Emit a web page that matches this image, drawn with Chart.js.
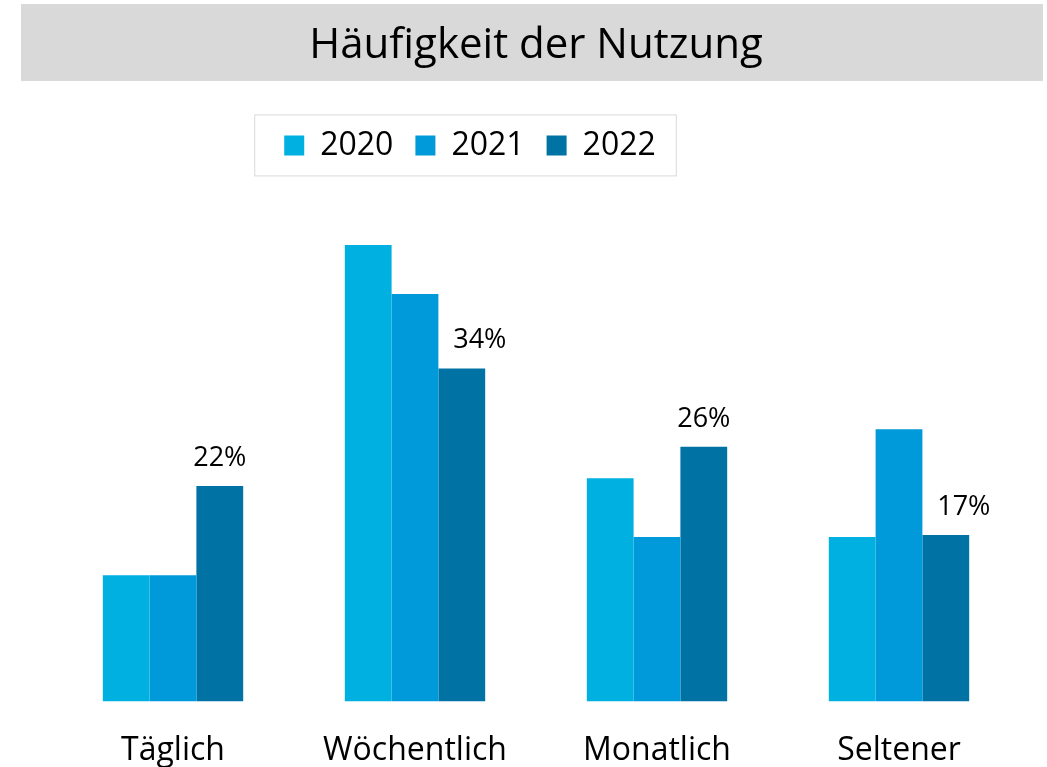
<!DOCTYPE html>
<html>
<head>
<meta charset="utf-8">
<script src="https://cdn.jsdelivr.net/npm/chart.js@4"></script>
<style>
  html, body { margin: 0; padding: 0; background: #fff; }
  #wrap { width: 1047px; height: 767px; position: relative; }
</style>
</head>
<body>
<div id="wrap"><canvas id="usageChart"></canvas></div>
<script>
// Häufigkeit der Nutzung - grouped bars per year
const categories = ['Täglich', 'Wöchentlich', 'Monatlich', 'Seltener'];
const years = ['2020', '2021', '2022'];
const values2020 = [12.9, 46.6, 22.8, 16.8];
const values2021 = [12.9, 41.6, 16.8, 27.8];
const values2022 = [22, 34, 26, 17];
const colors = ['#00B0E0', '#009ADA', '#0072A3'];

const FONT = '"Open Sans", "Liberation Sans", sans-serif';

// gray band behind the title, box around the legend, shift legend left
const decorPlugin = {
  id: 'decor',
  afterLayout(chart) {
    const lg = chart.legend;
    lg.left -= 66;
    lg.right -= 66;
  },
  beforeDraw(chart) {
    const ctx = chart.ctx;
    ctx.save();
    ctx.fillStyle = '#D9D9D9';
    ctx.fillRect(21, 4, 1022, 77);
    ctx.restore();
  },
  afterDraw(chart) {
    const boxes = chart.legend.legendHitBoxes;
    if (!boxes || !boxes.length) return;
    const first = boxes[0];
    const last = boxes[boxes.length - 1];
    const cy = first.top + first.height / 2;
    const ctx = chart.ctx;
    ctx.save();
    ctx.strokeStyle = '#D9D9D9';
    ctx.lineWidth = 1;
    ctx.strokeRect(first.left - 29.5, cy - 30.5, last.left + last.width - first.left + 50, 61);
    ctx.restore();
  }
};

// percent labels above the 2022 bars, nudged right when the 2021 bar is in the way
const labelPlugin = {
  id: 'barLabels',
  afterDatasetsDraw(chart) {
    const ctx = chart.ctx;
    const meta = chart.getDatasetMeta(2);
    const prev = chart.getDatasetMeta(1);
    ctx.save();
    ctx.font = '27px ' + FONT;
    ctx.fillStyle = '#000';
    ctx.textAlign = 'center';
    ctx.textBaseline = 'alphabetic';
    meta.data.forEach((bar, i) => {
      const y = bar.y - 20;
      const blocked = prev.data[i].y < y;
      ctx.fillText(values2022[i] + '%', bar.x + (blocked ? 18 : 0), y);
    });
    ctx.restore();
  }
};

new Chart(document.getElementById('usageChart'), {
  type: 'bar',
  data: {
    labels: categories,
    datasets: [
      { label: years[0], data: values2020, backgroundColor: colors[0] },
      { label: years[1], data: values2021, backgroundColor: colors[1] },
      { label: years[2], data: values2022, backgroundColor: colors[2] }
    ]
  },
  options: {
    responsive: true,
    maintainAspectRatio: false,
    animation: false,
    categoryPercentage: 0.58,
    barPercentage: 1.0,
    layout: { padding: { top: 4, left: 52, right: 27, bottom: -33 } },
    scales: {
      x: {
        grid: { display: false, drawTicks: false },
        border: { display: false },
        ticks: { color: '#000', font: { family: FONT, size: 32 }, padding: 30 }
      },
      y: {
        display: false,
        min: 0,
        max: 54.1
      }
    },
    plugins: {
      legend: {
        position: 'top',
        labels: {
          color: '#000',
          font: { family: FONT, size: 32 },
          boxWidth: 20,
          boxHeight: 20,
          padding: 22
        }
      },
      title: {
        display: true,
        text: 'Häufigkeit der Nutzung',
        color: '#000',
        font: { family: FONT, size: 42, weight: 'normal' },
        padding: { top: 17, bottom: 36 }
      },
      tooltip: { enabled: false }
    }
  },
  plugins: [decorPlugin, labelPlugin]
});
</script>
</body>
</html>
